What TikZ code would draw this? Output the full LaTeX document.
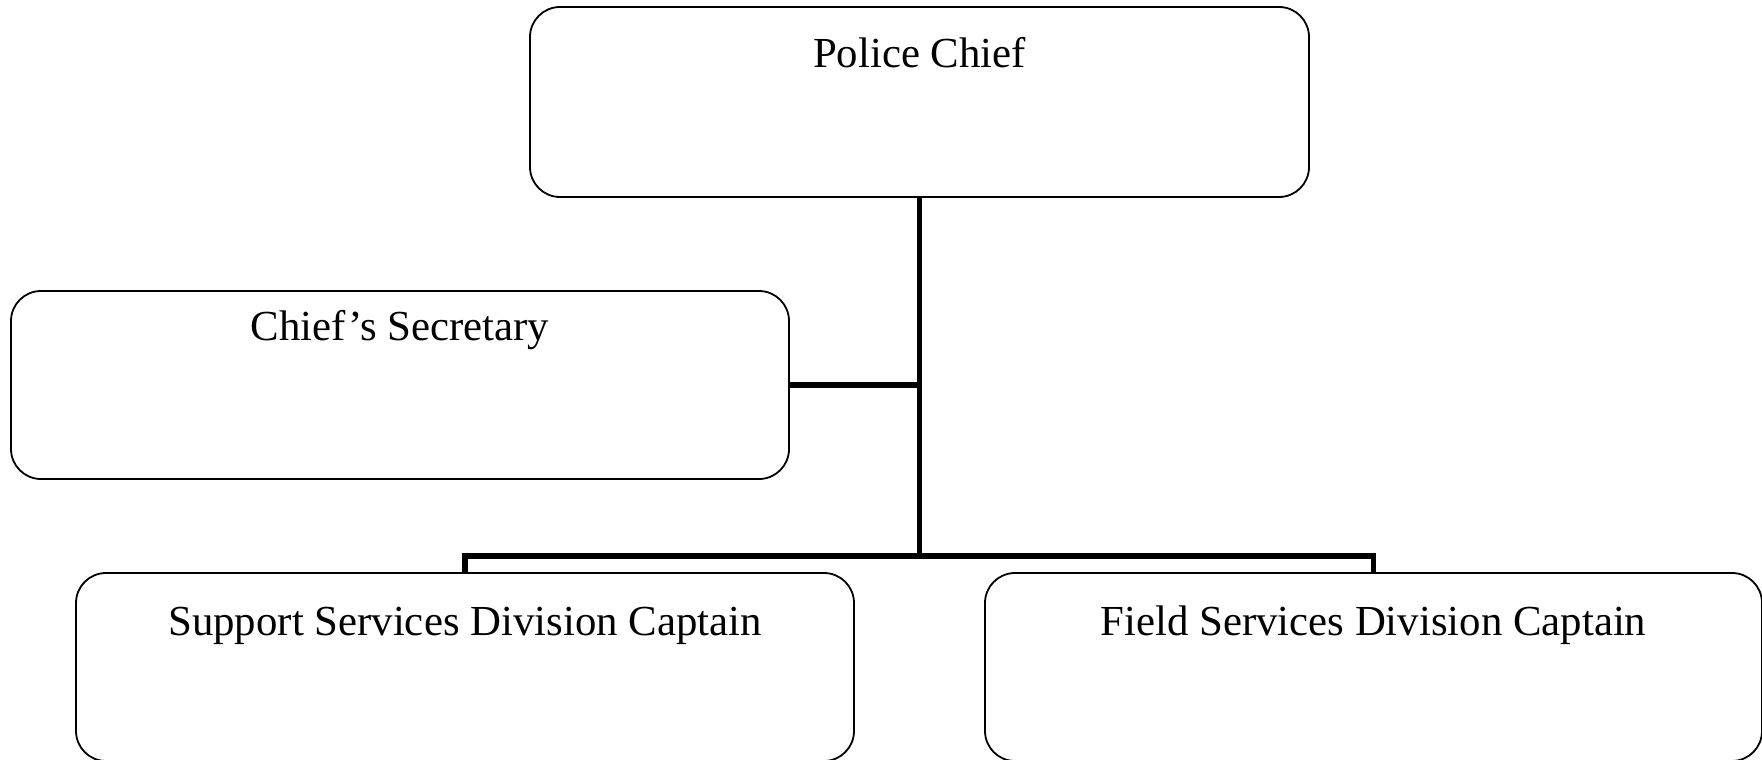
\documentclass[tikz,border=0pt]{standalone}
\usepackage{fontspec}
\setmainfont{Liberation Serif}
\begin{document}
\begin{tikzpicture}[x=1pt,y=-1pt,
  orgbox/.style={draw=black, line width=1.8pt, rounded corners=30pt, inner sep=0pt},
  orgtext/.style={anchor=base, inner sep=0pt, font=\fontsize{42.8}{50}\selectfont},
  link/.style={draw=black, line width=5.4pt}]
  \useasboundingbox (0,0) rectangle (1762,760);
  \clip (0,0) rectangle (1762,760);

  % boxes
  \node[orgbox, minimum width=779pt, minimum height=190pt] (chief) at (919.5,102) {};
  \node[orgbox, minimum width=778pt, minimum height=188pt] (sec) at (400,385) {};
  \node[orgbox, minimum width=778pt, minimum height=188pt] (support) at (465,667) {};
  \node[orgbox, minimum width=777pt, minimum height=188pt] (field) at (1373.5,667) {};

  % titles
  \node[orgtext] (chief-t) at (919.5,67) {Police Chief};
  \node[orgtext] (sec-t) at (400,340) {Chief’s Secretary};
  \node[orgtext] (support-t) at (465,635) {Support Services Division Captain};
  \node[orgtext] (field-t) at (1373.5,635) {Field Services Division Captain};

  % reporting lines
  \coordinate (bus) at (919.5,556);
  \draw[link] (chief.south) -- (bus);
  \draw[link] (sec.east) -- (sec.east -| chief.south);
  \draw[link] (support.north) |- (bus) -| (field.north);
\end{tikzpicture}
\end{document}
